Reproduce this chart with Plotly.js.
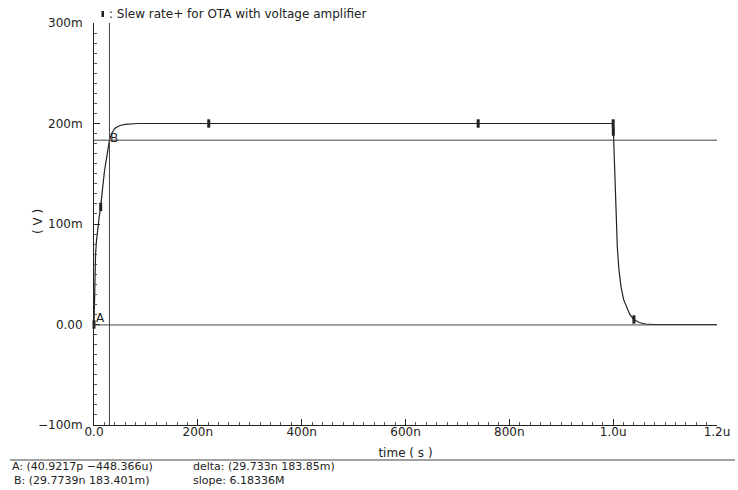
<!DOCTYPE html>
<html>
<head>
<meta charset="utf-8">
<script src="https://cdn.plot.ly/plotly-3.0.1.min.js"></script>
<style>html,body{margin:0;padding:0;background:#fff;}#chart{width:738px;height:490px;}</style>
</head>
<body>
<div id="chart"></div>
<script>
// time in ns, voltage in mV
const timeNs = [0, 1, 2, 3, 4.5, 7, 10, 13, 17, 20, 24, 29.77, 34, 40, 46, 52, 60, 70, 85, 100, 998, 1000, 1001, 1002.5, 1004, 1006, 1008, 1011, 1015, 1020, 1025, 1032, 1040, 1050, 1062, 1080, 1200];
const voltMv = [0, 30, 55, 70, 82, 95, 107, 118, 140, 152, 165, 183.4, 190, 195, 197, 198.3, 199.2, 199.7, 200, 200, 200, 199, 183, 160, 127, 100, 77, 55, 38, 25, 18, 10, 5, 2, 0.5, 0, 0];
const markerT = [0, 12.9, 221, 740, 1000, 1000.3, 1040];
const markerV = [0, 117, 200, 200, 200, 192, 5];
const cursorA = {t: 0.0409217, v: -0.448366};
const cursorB = {t: 29.7739, v: 183.401};
const xTickVals = [0, 200, 400, 600, 800, 1000, 1200];
const xTickText = ["0.0", "200n", "400n", "600n", "800n", "1.0u", "1.2u"];
const yTickVals = [-100, 0, 100, 200, 300];
const yTickText = ["\u2212100m", "0.00", "100m", "200m", "300m"];
const titleText = ": Slew rate+ for OTA with voltage amplifier";
const xTitle = "time ( s )";
const yTitle = "( V )";
const infoA = "A: (40.9217p \u2212448.366u)";
const infoB = "B: (29.7739n 183.401m)";
const infoDelta = "delta: (29.733n 183.85m)";
const infoSlope = "slope: 6.18336M";

const ink = "#222";
const fam = "DejaVu Sans, sans-serif";
const f = (s) => ({family: fam, size: s, color: ink});

const traces = [
  {x: timeNs, y: voltMv, mode: "lines", line: {color: ink, width: 1.2}, showlegend: false, hoverinfo: "skip"},
  {x: markerT, y: markerV, mode: "markers", marker: {symbol: "line-ns", size: 6, line: {color: ink, width: 3}}, showlegend: false, hoverinfo: "skip", cliponaxis: false}
];

// plot area geometry for paper-coordinate placement outside the axes
const L = 94, R = 717, T = 23, B = 425;
const px = x => (x - L) / (R - L);
const py = y => (B - y) / (B - T);

const layout = {
  width: 738, height: 490, autosize: false,
  margin: {l: L, r: 738 - R, t: T, b: 490 - B, pad: 0},
  paper_bgcolor: "#fff", plot_bgcolor: "#fff",
  font: f(12),
  title: {text: titleText, font: f(12), xref: "container", yref: "container", x: 109 / 738, xanchor: "left", y: 1 - 14 / 490, yanchor: "middle"},
  xaxis: {
    range: [0, 1200], showgrid: false, zeroline: false, showline: true, linecolor: ink, linewidth: 1,
    ticks: "inside", ticklen: 6, tickcolor: ink, tickmode: "array", tickvals: xTickVals, ticktext: xTickText,
    minor: {tickmode: "linear", tick0: 0, dtick: 20, ticks: "inside", ticklen: 3, tickcolor: "#555", showgrid: false},
    tickfont: f(12), ticklabelstandoff: -4,
    title: {text: xTitle, font: f(12), standoff: 10},
    fixedrange: true
  },
  yaxis: {
    range: [-100, 300], showgrid: false, zeroline: false, showline: true, linecolor: ink, linewidth: 1,
    ticks: "inside", ticklen: 6, tickcolor: ink, tickmode: "array", tickvals: yTickVals, ticktext: yTickText,
    minor: {tickmode: "linear", tick0: 0, dtick: 10, ticks: "inside", ticklen: 3, tickcolor: "#555", showgrid: false},
    tickfont: f(12), ticklabelstandoff: 8,
    fixedrange: true
  },
  shapes: [
    {type: "line", xref: "x", yref: "y", x0: cursorB.t, x1: cursorB.t, y0: -100, y1: 300, line: {color: "#444", width: 1}},
    {type: "line", xref: "x", yref: "y", x0: 0, x1: 1200, y0: cursorB.v, y1: cursorB.v, line: {color: "#444", width: 1}},
    {type: "line", xref: "x", yref: "y", x0: 0, x1: 1200, y0: cursorA.v, y1: cursorA.v, line: {color: "#444", width: 1}},
    {type: "line", xref: "paper", yref: "paper", x0: px(10), x1: px(735), y0: py(460), y1: py(460), line: {color: "#444", width: 1}},
    {type: "rect", xref: "paper", yref: "paper", x0: px(101.5), x1: px(104), y0: py(11), y1: py(17), fillcolor: ink, line: {width: 0}}
  ],
  annotations: [
    {xref: "paper", yref: "paper", x: px(38), y: py(222), text: yTitle, textangle: -90, showarrow: false, xanchor: "center", yanchor: "middle", font: f(12)},
    {xref: "x", yref: "y", x: cursorA.t + 2, y: cursorA.v - 1, text: "A", showarrow: false, xanchor: "left", yanchor: "bottom", borderpad: 0, font: f(12)},
    {xref: "x", yref: "y", x: cursorB.t - 0.5, y: cursorB.v - 6, text: "B", showarrow: false, xanchor: "left", yanchor: "bottom", borderpad: 0, font: f(12)},
    {xref: "paper", yref: "paper", x: px(11), y: py(466), text: infoA, showarrow: false, xanchor: "left", yanchor: "middle", borderpad: 0, font: f(11)},
    {xref: "paper", yref: "paper", x: px(13), y: py(480), text: infoB, showarrow: false, xanchor: "left", yanchor: "middle", borderpad: 0, font: f(11)},
    {xref: "paper", yref: "paper", x: px(192), y: py(466), text: infoDelta, showarrow: false, xanchor: "left", yanchor: "middle", borderpad: 0, font: f(11)},
    {xref: "paper", yref: "paper", x: px(192), y: py(480), text: infoSlope, showarrow: false, xanchor: "left", yanchor: "middle", borderpad: 0, font: f(11)}
  ]
};

Plotly.newPlot("chart", traces, layout, {staticPlot: true, displayModeBar: false});
</script>
</body>
</html>
